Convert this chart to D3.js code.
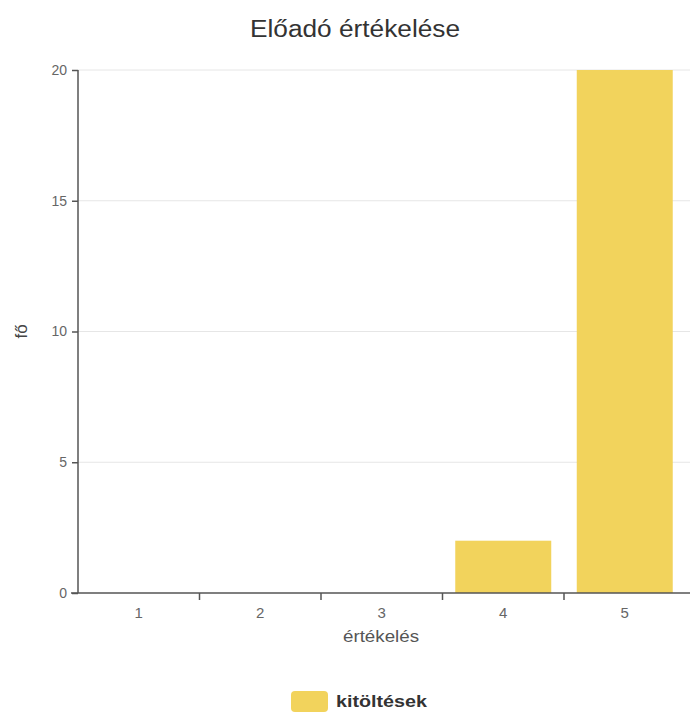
<!DOCTYPE html>
<html><head><meta charset="utf-8">
<script src="https://cdn.jsdelivr.net/npm/d3@7"></script>
<style>body{margin:0;background:#fff;} svg{display:block;font-family:"Liberation Sans",Arial,sans-serif;}</style>
</head><body>
<script>
const categories = ["1","2","3","4","5"];
const values = [0,0,0,2,20];
const yTicks = [0,5,10,15,20];
const seriesName = "kitöltések";
const title = "Előadó értékelése";
const xTitle = "értékelés";
const yTitle = "fő";

const W=690,H=715;
const m={left:78,right:4.5,top:70,bottom:122};
const svg=d3.select("body").append("svg").attr("width",W).attr("height",H);
const x=d3.scaleBand().domain(categories).range([m.left,W-m.right]).paddingInner(0.21).paddingOuter(0.105);
const xb=d3.scaleBand().domain(categories).range([m.left,W-m.right]);
const y=d3.scaleLinear().domain([0,20]).range([H-m.bottom,m.top]);

// grid
svg.append("g").selectAll("line").data(yTicks.filter(d=>d>0)).join("line")
 .attr("x1",m.left).attr("x2",W).attr("y1",d=>y(d)).attr("y2",d=>y(d))
 .attr("stroke","#e6e6e6").attr("stroke-width",1);

// bars
svg.append("g").selectAll("rect").data(values).join("rect")
 .attr("x",(d,i)=>x(categories[i])).attr("width",x.bandwidth())
 .attr("y",d=>y(d)).attr("height",d=>y(0)-y(d)).attr("fill","#f2d35c");

// y axis
const ya=svg.append("g").attr("transform",`translate(${m.left},0)`)
 .call(d3.axisLeft(y).tickValues(yTicks).tickSize(6).tickPadding(5));
ya.select(".domain").attr("stroke","#555").attr("stroke-width",1.5).attr("d",`M0,${y(20)}V${y(0)}`);
ya.selectAll(".tick line").attr("stroke","#555").attr("stroke-width",1.5);
ya.selectAll("text").attr("fill","#666").style("font-size","14px");

// x axis
const xa=svg.append("g").attr("transform",`translate(0,${y(0)})`)
 .call(d3.axisBottom(xb).tickSize(0).tickPadding(14));
xa.select(".domain").attr("stroke","#555").attr("stroke-width",1.5).attr("d",`M${m.left-7},0H${W}`);
xa.selectAll("text").attr("fill","#666").style("font-size","15px");
xa.selectAll(".tickmark").data(categories.slice(1)).join("line").attr("class","tickmark")
 .attr("x1",d=>xb(d)).attr("x2",d=>xb(d)).attr("y1",0).attr("y2",7)
 .attr("stroke","#555").attr("stroke-width",1.5);

// titles
svg.append("text").attr("x",355).attr("y",37).attr("text-anchor","middle")
 .attr("fill","#333").style("font-size","23px")
 .attr("textLength",210).attr("lengthAdjust","spacingAndGlyphs").text(title);
svg.append("text").attr("x",381).attr("y",642).attr("text-anchor","middle")
 .attr("fill","#555").style("font-size","16px")
 .attr("textLength",76).attr("lengthAdjust","spacingAndGlyphs").text(xTitle);
svg.append("text").attr("transform",`translate(27,${(y(0)+y(20))/2}) rotate(-90)`).attr("text-anchor","middle")
 .attr("fill","#444").style("font-size","17px").text(yTitle);

// legend
svg.append("rect").attr("x",291).attr("y",691).attr("width",37).attr("height",21).attr("rx",4)
 .attr("fill","#f2d35c");
svg.append("text").attr("x",336).attr("y",707).attr("fill","#333").style("font-size","17px")
 .style("font-weight","bold").attr("textLength",91).attr("lengthAdjust","spacingAndGlyphs").text(seriesName);
</script>
</body></html>
